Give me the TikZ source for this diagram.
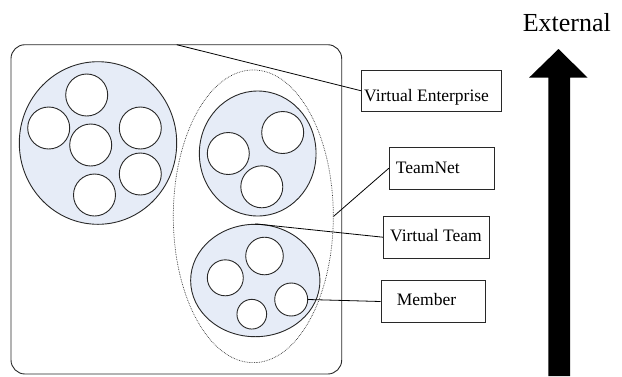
\documentclass[tikz,border=0pt]{standalone}
\usepackage{fontspec}
\setmainfont{Liberation Serif}
\usetikzlibrary{shapes.geometric,calc}
\definecolor{teamfill}{RGB}{230,236,247}
\definecolor{edge}{RGB}{40,40,40}
\tikzset{
  team/.style={draw=edge, line width=0.9pt, fill=teamfill, ellipse, inner sep=0pt},
  memb/.style={draw=edge, line width=0.9pt, fill=white, circle, inner sep=0pt},
  lblbox/.style={draw=edge, line width=0.9pt, rectangle, inner sep=0pt},
  lbl/.style={font=\fontsize{17.5}{19}\selectfont, inner sep=0pt, anchor=base west},
  conn/.style={draw=black, line width=0.8pt},
}
\begin{document}
\begin{tikzpicture}[x=1pt,y=-1pt]
\useasboundingbox (0,0) rectangle (622,376);
% enterprise frame
\node[draw=edge, line width=0.9pt, rounded corners=14pt, minimum width=330.7pt, minimum height=329.3pt, inner sep=0pt] (ent) at (176.35,209.35) {};
\coordinate (vestart) at (176.7,44.7);
% teamnet dotted ellipse
\node[draw=gray!40!black, line width=0.7pt, densely dotted, ellipse, minimum width=160pt, minimum height=292.7pt, inner sep=0pt] (tnet) at (253.3,216.3) {};
% big team
\node[team, minimum width=157.4pt, minimum height=162.6pt] (t1) at (98,143) {};
\node[memb, minimum size=42pt] (m11) at (86.7,95) {};
\node[memb, minimum size=42pt] (m12) at (48.7,128) {};
\node[memb, minimum size=42pt] (m13) at (90.7,145) {};
\node[memb, minimum size=42pt] (m14) at (140.3,128) {};
\node[memb, minimum size=42pt] (m15) at (140.3,174) {};
\node[memb, minimum size=42pt] (m16) at (94.5,195) {};
% upper team
\node[team, minimum width=116.7pt, minimum height=125pt] (t2) at (257.7,153.5) {};
\node[memb, minimum size=42pt] (m21) at (228.3,153.5) {};
\node[memb, minimum size=42pt] (m22) at (282.7,132.5) {};
\node[memb, minimum size=42pt] (m23) at (261.8,186.8) {};
% lower team
\node[team, minimum width=129.3pt, minimum height=112.4pt] (t3) at (255.3,280.5) {};
\node[memb, minimum size=36pt] (m31) at (225.3,277.8) {};
\node[memb, minimum size=37.6pt] (m32) at (264.5,256) {};
\node[memb, minimum size=29.7pt] (m33) at (251.8,314.2) {};
\node[memb, minimum size=33pt] (m34) at (291.2,299.5) {};
% label boxes
\node[lblbox, minimum width=140pt, minimum height=41.7pt] (ve) at (431.7,90.8) {};
\node[lbl] (vet) at (364,101) {Virtual Enterprise};
\node[lblbox, minimum width=104.7pt, minimum height=41.7pt] (tn) at (441.7,168.2) {};
\node[lbl] (tnt) at (395.7,173.3) {TeamNet};
\node[lblbox, minimum width=106pt, minimum height=42.3pt] (vt) at (436.3,237.2) {};
\node[lbl] (vtt) at (390,241.7) {Virtual Team};
\node[lblbox, minimum width=104.3pt, minimum height=41.6pt] (mb) at (433.2,301.5) {};
\node[lbl] (mbt) at (396.7,305) {Member};
% connectors
\draw[conn] (vestart) -- (ve.west);
\draw[conn] (tnet.east) -- (tn.west);
\draw[conn] (t3.north) -- (vt.west);
\draw[conn] (m34.east) -- (mb.west);
% external arrow
\node[font=\fontsize{26}{28}\selectfont, inner sep=0pt, anchor=base] (ext) at (566.8,31) {External};
\fill[black] (558.5,49) -- (587.7,77.7) -- (570,77.7) -- (570,376) -- (548.3,376) -- (548.3,77.7) -- (529,77.7) -- cycle;
\end{tikzpicture}
\end{document}
